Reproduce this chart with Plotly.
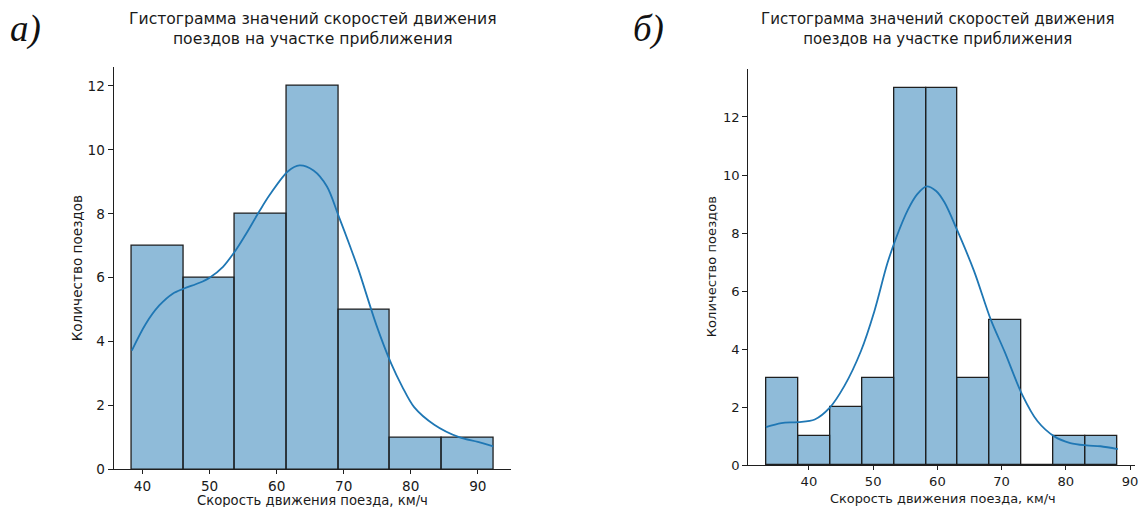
import plotly.graph_objects as go

W, H = 1142, 507

# ---- data (left histogram, "а)") ----
left_bin_start = 38.4
left_bin_width = 7.7
left_counts = [7, 6, 8, 12, 5, 1, 1]
left_kde_x = [38.4, 40.5, 42.5, 44.5, 46.2, 48.5, 50.0, 52.0, 54.0, 55.5, 57.4, 59.0,
              61.7, 63.4, 65.5, 67.5, 69.2, 71.0, 72.2, 74.9, 77.1, 78.7, 80.5, 83.5,
              87.2, 90.0, 92.3]
left_kde_y = [3.72, 4.56, 5.13, 5.50, 5.66, 5.84, 6.0, 6.34, 6.89, 7.39, 8.07, 8.6,
              9.33, 9.51, 9.35, 8.85, 7.95, 6.95, 6.25, 4.5, 3.3, 2.6, 1.95, 1.4,
              1.01, 0.86, 0.72]

# ---- data (right histogram, "б)") ----
right_bin_start = 33.3
right_bin_width = 4.98
right_counts = [3, 1, 2, 3, 13, 13, 3, 5, 0, 1, 1]
right_kde_x = [33.3, 35.7, 38.3, 40.9, 43.2, 45.5, 48.1, 50.2, 52.2, 53.6, 55.4, 56.9,
               58.3, 59.8, 61.1, 63.1, 65.7, 68.3, 70.5, 73.2, 75.6, 78.2, 80.7, 83.2,
               85.4, 88.1]
right_kde_y = [1.32, 1.46, 1.49, 1.58, 1.98, 2.73, 3.94, 5.32, 6.95, 7.85, 8.8, 9.35,
               9.61, 9.45, 9.06, 8.09, 6.7, 5.03, 3.9, 2.44, 1.52, 1.0, 0.77, 0.69,
               0.66, 0.56]

x_ticks = [40, 50, 60, 70, 80, 90]
y_ticks = [0, 2, 4, 6, 8, 10, 12]

title_text = "Гистограмма значений скоростей движения<br>поездов на участке приближения"
x_label = "Скорость движения поезда, км/ч"
y_label = "Количество поездов"

FILL = "rgba(31,119,180,0.5)"
EDGE = "#1f1f1f"
LINE = "#1f77b4"
FONT = "DejaVu Sans"
TXT = "#1a1a1a"

fig = go.Figure()


def add_hist(start, width, counts, kx, ky, xa, ya):
    centers = [start + width * (i + 0.5) for i in range(len(counts))]
    fig.add_trace(go.Bar(x=centers, y=counts, width=width, xaxis=xa, yaxis=ya,
                         marker=dict(color=FILL, line=dict(color=EDGE, width=1.3)),
                         showlegend=False, hoverinfo="skip"))
    fig.add_trace(go.Scatter(x=kx, y=ky, mode="lines", xaxis=xa, yaxis=ya,
                             line=dict(color=LINE, width=1.8, shape="spline", smoothing=0.9),
                             showlegend=False, hoverinfo="skip"))


add_hist(left_bin_start, left_bin_width, left_counts, left_kde_x, left_kde_y, "x", "y")
add_hist(right_bin_start, right_bin_width, right_counts, right_kde_x, right_kde_y, "x2", "y2")


def rng(start, width, n):
    lo, hi = start, start + width * n
    pad = 0.05 * (hi - lo)
    return [lo - pad, hi + pad]


def px_x(p):
    return p / W


def px_y(p):
    # empirical vertical correction so rendered positions land on target pixels
    q = 29 + (p - 29) / 0.98
    return 1 - q / H


axis_common = dict(showline=True, linecolor=EDGE, linewidth=1.1, ticks="outside",
                   tickwidth=1.1, tickcolor=EDGE, showgrid=False,
                   zeroline=False, mirror=False)

LT, RT = 13.6, 13.1      # tick font sizes
LL, RL = 13.2, 12.9      # axis label font sizes
LTI, RTI = 15.6, 15.0    # title font sizes

fig.update_layout(
    width=W, height=H, margin=dict(l=0, r=0, t=0, b=0), autosize=False,
    plot_bgcolor="white", paper_bgcolor="white", bargap=0,
    xaxis=dict(domain=[px_x(114), px_x(512.7)], range=rng(left_bin_start, left_bin_width, len(left_counts)),
               tickvals=x_ticks, anchor="y", ticklen=4, tickfont=dict(family=FONT, size=LT, color=TXT),
               **axis_common),
    yaxis=dict(domain=[px_y(468), px_y(67)], range=[0, 12.6], tickvals=y_ticks, anchor="x",
               ticklen=5, tickfont=dict(family=FONT, size=LT, color=TXT), **axis_common),
    xaxis2=dict(domain=[px_x(750.3), px_x(1138.3)], range=rng(right_bin_start, right_bin_width, len(right_counts)),
                tickvals=x_ticks, anchor="y2", ticklen=4, tickfont=dict(family=FONT, size=RT, color=TXT),
                **axis_common),
    yaxis2=dict(domain=[px_y(464), px_y(69.3)], range=[0, 13.65], tickvals=y_ticks, anchor="x2",
                ticklen=5, tickfont=dict(family=FONT, size=RT, color=TXT), **axis_common),
)

ann = []
# titles
ann.append(dict(x=px_x(313.5), y=px_y(29), text=title_text, showarrow=False, xref="paper", yref="paper",
                xanchor="center", yanchor="middle", font=dict(family=FONT, size=LTI, color=TXT)))
ann.append(dict(x=px_x(940), y=px_y(29), text=title_text, showarrow=False, xref="paper", yref="paper",
                xanchor="center", yanchor="middle", font=dict(family=FONT, size=RTI, color=TXT)))
# x labels
ann.append(dict(x=px_x(313), y=px_y(498.5), text=x_label, showarrow=False, xref="paper", yref="paper",
                xanchor="center", yanchor="middle", font=dict(family=FONT, size=LL, color=TXT)))
ann.append(dict(x=px_x(945), y=px_y(496.5), text=x_label, showarrow=False, xref="paper", yref="paper",
                xanchor="center", yanchor="middle", font=dict(family=FONT, size=RL, color=TXT)))
# y labels
ann.append(dict(x=px_x(77), y=px_y(268), text=y_label, showarrow=False, xref="paper", yref="paper",
                textangle=-90, xanchor="center", yanchor="middle",
                font=dict(family=FONT, size=LT, color=TXT)))
ann.append(dict(x=px_x(713.5), y=px_y(266), text=y_label, showarrow=False, xref="paper", yref="paper",
                textangle=-90, xanchor="center", yanchor="middle",
                font=dict(family=FONT, size=RT, color=TXT)))
# panel letters
ann.append(dict(x=px_x(26), y=px_y(29), text="<i>а)</i>", showarrow=False, xref="paper", yref="paper",
                xanchor="center", yanchor="middle",
                font=dict(family="Liberation Serif", size=37, color="#111")))
ann.append(dict(x=px_x(650), y=px_y(29), text="<i>б)</i>", showarrow=False, xref="paper", yref="paper",
                xanchor="center", yanchor="middle",
                font=dict(family="Liberation Serif", size=37, color="#111")))
fig.update_layout(annotations=ann)

fig.write_html(
    "out.html",
    config={"responsive": False, "displayModeBar": False},
    post_script=("document.body.style.margin='0';"
                 "document.body.style.overflow='hidden';"
                 "document.documentElement.style.overflow='hidden';"),
)
